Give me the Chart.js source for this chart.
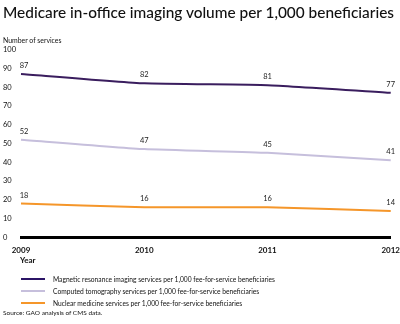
<!DOCTYPE html>
<html>
<head>
<meta charset="utf-8">
<script src="https://cdn.jsdelivr.net/npm/chart.js@4/dist/chart.umd.min.js"></script>
<style>
  html, body { margin: 0; padding: 0; background: #fff; }
  #wrap { position: relative; width: 400px; height: 324px; overflow: hidden; font-family: Lato, "Noto Sans", sans-serif; color: #111; }
  #chart { position: absolute; left: 0; top: 0; }
  .t { position: absolute; white-space: nowrap; transform-origin: 0 0; }
  #title { left: 3px; top: 3px; font-size: 15.4px; font-weight: 500; }
  #yname { left: 3px; top: 36px; font-size: 7.5px; transform: scaleX(0.92); }
  #xname { left: 20px; top: 255px; font-size: 8px; font-weight: bold; }
  .leg { left: 21px; font-size: 7.5px; }
  .leg i { display: inline-block; width: 24px; height: 2px; vertical-align: middle; margin-right: 8px; position: relative; top: -1px; }
  .leg span { display: inline-block; transform: scaleX(0.89); transform-origin: 0 50%; }
  #source { left: 3px; top: 309px; font-size: 6.5px; }
</style>
</head>
<body>
<div id="wrap">
  <canvas id="chart" width="400" height="324"></canvas>
  <div class="t" id="title">Medicare in-office imaging volume per 1,000 beneficiaries</div>
  <div class="t" id="yname">Number of services</div>
  <div class="t" id="xname">Year</div>
  <div id="legend"></div>
  <div class="t" id="source">Source: GAO analysis of CMS data.</div>
</div>
<script>
const years = ['2009', '2010', '2011', '2012'];
const mriValues = [87, 82, 81, 77];
const ctValues = [52, 47, 45, 41];
const nuclearValues = [18, 16, 16, 14];
const yTicks = [0, 10, 20, 30, 40, 50, 60, 70, 80, 90, 100];
const seriesNames = [
  'Magnetic resonance imaging services per 1,000 fee-for-service beneficiaries',
  'Computed tomography services per 1,000 fee-for-service beneficiaries',
  'Nuclear medicine services per 1,000 fee-for-service beneficiaries'
];
const seriesColors = ['#3a1d5e', '#c6bfdc', '#f5962a'];
const legendColors = ['#2b1466', '#c6bfdc', '#f5962a'];

// legend rows below the plot
const legendTops = [274.5, 286.5, 299];
const legendEl = document.getElementById('legend');
seriesNames.forEach((name, i) => {
  const row = document.createElement('div');
  row.className = 't leg';
  row.style.top = legendTops[i] + 'px';
  row.innerHTML = '<i style="background:' + legendColors[i] + '"></i><span>' + name + '</span>';
  legendEl.appendChild(row);
});

// value labels above each point
const pointLabels = {
  id: 'pointLabels',
  afterDatasetsDraw(chart) {
    const ctx = chart.ctx;
    ctx.save();
    ctx.font = '7.5px Lato, "Noto Sans", sans-serif';
    ctx.fillStyle = '#222';
    ctx.textAlign = 'center';
    ctx.textBaseline = 'alphabetic';
    chart.data.datasets.forEach((ds, di) => {
      chart.getDatasetMeta(di).data.forEach((pt, i) => {
        const x = i === 0 ? pt.x + 3 : pt.x;
        ctx.fillText(String(ds.data[i]), x, pt.y - 6);
      });
    });
    ctx.restore();
  }
};

new Chart(document.getElementById('chart'), {
  type: 'line',
  data: {
    labels: years,
    datasets: [
      { data: mriValues, borderColor: seriesColors[0], borderWidth: 2 },
      { data: ctValues, borderColor: seriesColors[1], borderWidth: 2 },
      { data: nuclearValues, borderColor: seriesColors[2], borderWidth: 2 }
    ]
  },
  options: {
    responsive: false,
    animation: false,
    layout: { padding: { left: 3, right: 0, top: 49.5, bottom: 69 } },
    elements: { point: { radius: 0 }, line: { tension: 0.15 } },
    plugins: { legend: { display: false }, tooltip: { enabled: false } },
    scales: {
      x: {
        grid: { display: false },
        border: { color: '#000', width: 3 },
        ticks: { color: '#111', font: { family: 'Lato', size: 8, weight: 'bold' }, padding: 0, maxRotation: 0 }
      },
      y: {
        min: 0, max: 100,
        afterBuildTicks(scale) { scale.ticks = yTicks.map(v => ({ value: v })); },
        afterFit(scale) { scale.width = 18; },
        grid: { display: false },
        border: { display: false },
        ticks: { color: '#111', font: { family: 'Lato', size: 7.5 }, crossAlign: 'far', padding: 0 }
      }
    }
  },
  plugins: [pointLabels]
});
</script>
</body>
</html>
